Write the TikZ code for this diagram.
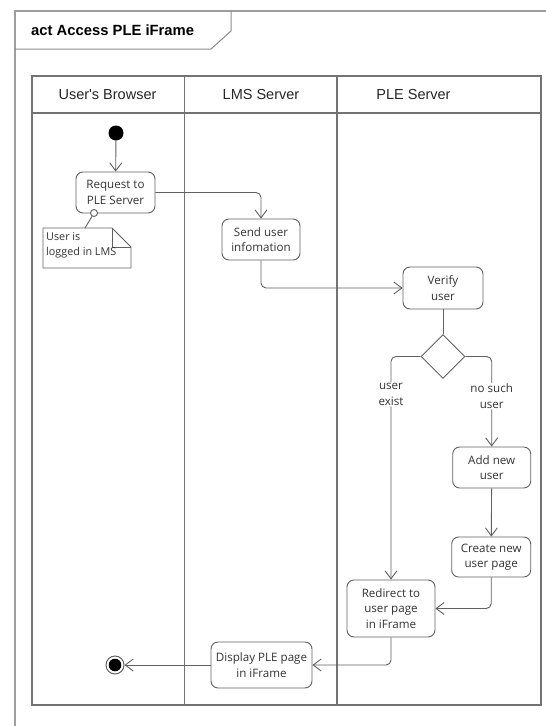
\documentclass[tikz,border=0pt]{standalone}
\usepackage{fontspec}
\setmainfont{Open Sans}
\newfontfamily\hdfont{Liberation Sans}
\usetikzlibrary{arrows.meta,shapes.geometric}

\begin{document}
\begin{tikzpicture}[x=1pt,y=-1pt,
    line/.style={draw=black!62,line width=0.9pt},
    act/.style={line,rounded corners=7pt,align=center,inner sep=1pt,
      font=\fontsize{11.6}{15.5}\selectfont,text=black!80},
    flow/.style={line,rounded corners=5pt,-{Straight Barb[length=8pt,width=12pt,line width=0.9pt]}},
    lbl/.style={fill=white,align=center,inner sep=1pt,
      font=\fontsize{11.6}{15.5}\selectfont,text=black!80}]
  \clip (0,0) rectangle (546,726);
  \fill[white] (0,0) rectangle (546,726);
  % frame and title tab
  \draw[draw=black!38,line width=1.2pt] (15,800) -- (15,11) -- (600,11);
  \draw[draw=black!45,line width=1pt] (15,49) -- (211,49) -- (231,31) -- (231,11);
  \node[anchor=west,inner sep=0,font=\hdfont\bfseries\fontsize{14.8}{16}\selectfont] (title) at (31,30) {act Access PLE iFrame};
  % swimlanes
  \draw[draw=black!55,line width=1.3pt] (32,76) rectangle (541,705);
  \draw[draw=black!55,line width=1.3pt] (32,113) -- (541,113);
  \foreach \x in {184.5,337} {\draw[draw=black!55,line width=1.3pt] (\x,76) -- (\x,705);}
  \def\lanes{(107.5,95)/User's Browser,(261,95)/LMS Server,(413.5,95)/PLE Server}
  \foreach \p/\t [count=\i from 1] in \lanes {\node[font=\hdfont\fontsize{14.5}{16}\selectfont,text=black!85] (lane\i) at \p {\t};}
  % actions
  \node[circle,fill=black,inner sep=0,minimum size=15pt] (init) at (116,133) {};
  \node[act,minimum width=79pt,minimum height=41pt] (req) at (115.5,192.5) {Request to\\PLE Server};
  \node[act,minimum width=78pt,minimum height=41pt] (send) at (261,239.5) {Send user\\infomation};
  \node[act,minimum width=80pt,minimum height=42pt] (verify) at (443,288) {Verify\\user};
  \node[line,diamond,aspect=1,inner sep=0,minimum width=44pt,minimum height=44pt] (dec) at (443,356.5) {};
  \node[act,minimum width=78pt,minimum height=41pt] (add) at (491.7,467.5) {Add new\\user};
  \node[act,minimum width=79pt,minimum height=40pt] (create) at (491.2,557) {Create new\\user page};
  \node[act,minimum width=88pt,minimum height=57pt] (redirect) at (391,608.5) {Redirect to\\user page\\in iFrame};
  \node[act,minimum width=101pt,minimum height=46pt] (display) at (261.5,665) {Display PLE page\\in iFrame};
  \node[circle,line,line width=1pt,fill=white,inner sep=0,minimum size=18pt] (final) at (115,665) {};
  \fill[black] (final.center) circle[radius=6.3pt];
  % note
  \draw[line,fill=white] (43,228) -- (112,228) -- (131,247) -- (131,268) -- (43,268) -- cycle;
  \draw[line] (112,228) -- (112,247) -- (131,247);
  \node[align=left,inner sep=0,anchor=north west,text=black!80,
    font=\fontsize{10.8}{15.5}\selectfont] (note) at (46,232) {User is\\logged in LMS};
  \coordinate (ntip) at (85,228);
  \node[circle,line,fill=white,inner sep=0,minimum size=7pt] (pin) at (94,213) {};
  \draw[line] (pin) -- (ntip);
  % flows
  \draw[flow] (init) -- (req);
  \draw[flow] (req.east) -| (send.north);
  \draw[flow] (send.south) |- (verify.west);
  \draw[line] (verify) -- (dec);
  \draw[flow] (dec.west) -| node[lbl,pos=0.585] {user\\exist} (redirect.north);
  \draw[flow] (dec.east) -| node[lbl,pos=0.72] {no such\\user} (add.north);
  \draw[flow] (add) -- (create);
  \draw[flow] (create.south) |- (redirect.east);
  \draw[flow] (redirect.south) |- (display.east);
  \draw[flow] (display) -- (final);
\end{tikzpicture}
\end{document}
